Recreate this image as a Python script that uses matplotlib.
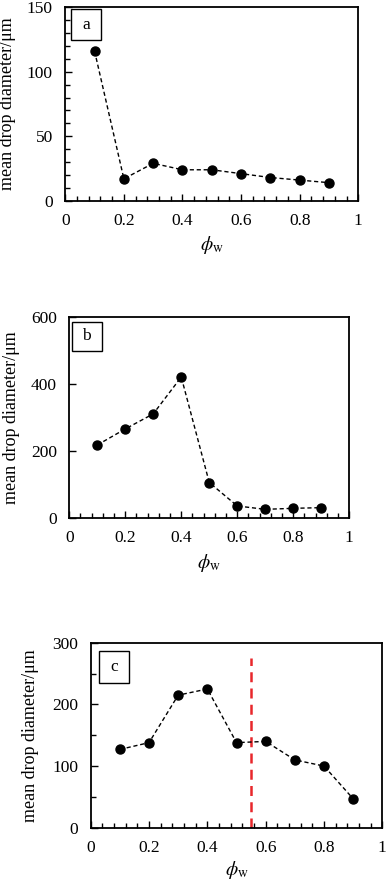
import matplotlib
matplotlib.use("Agg")
import matplotlib.pyplot as plt
from matplotlib.patches import Rectangle
from matplotlib.ticker import MultipleLocator

plt.rcParams['font.family'] = ['Liberation Serif', 'DejaVu Serif']
plt.rcParams['mathtext.fontset'] = 'stix'

phi_w = [0.1, 0.2, 0.3, 0.4, 0.5, 0.6, 0.7, 0.8, 0.9]
diam_a = [116, 17, 29, 24, 24, 21, 18, 16, 14]
diam_b = [217, 265, 310, 420, 105, 35, 25, 28, 30]
diam_c = [127, 138, 215, 225, 138, 140, 110, 100, 47]
line_c_x = 0.55
line_c_top = 275

fig = plt.figure(figsize=(3.87, 8.8), dpi=100)

def panel(rect, y, ymax, ymajor, yminor, letter, box, ylab_x, xlab_y):
    ax = fig.add_axes(rect)
    ax.plot(phi_w, y, 'k--', lw=1.0, dashes=(3, 2),
            marker='o', ms=6.5, mfc='black', mec='black', zorder=3)
    ax.set_xlim(0, 1)
    ax.set_ylim(0, ymax)
    ax.xaxis.set_major_locator(MultipleLocator(0.2))
    ax.xaxis.set_minor_locator(MultipleLocator(0.04))
    ax.yaxis.set_major_locator(MultipleLocator(ymajor))
    if yminor:
        ax.yaxis.set_minor_locator(MultipleLocator(yminor))
    ax.xaxis.set_major_formatter(plt.FuncFormatter(lambda v, p: '%g' % round(v, 2)))
    ax.tick_params(which='both', direction='in', top=False, right=False,
                   labelsize=12.5, width=1.0)
    ax.tick_params(which='major', length=5)
    ax.tick_params(which='minor', length=3.5)
    ax.tick_params(axis='y', pad=9)
    ax.tick_params(axis='x', pad=9)
    for s in ax.spines.values():
        s.set_linewidth(1.3)
    ax.set_ylabel('mean drop diameter/μm', fontsize=13)
    ax.yaxis.set_label_coords(ylab_x, 0.5)
    ax.set_xlabel(r'$\phi_{\rm w}$', fontsize=14)
    ax.xaxis.set_label_coords(0.5, xlab_y)
    x0, x1, y0, y1 = box
    ax.add_patch(Rectangle((x0, y0), x1 - x0, y1 - y0, transform=ax.transAxes,
                           fill=False, ec='black', lw=1.0, zorder=4))
    ax.text((x0 + x1) / 2, (y0 + y1) / 2, letter, transform=ax.transAxes,
            ha='center', va='center', fontsize=12.5)
    return ax

ax_a = panel([0.1687, 0.7719, 0.757, 0.2198], diam_a, 150, 50, 10, 'a',
             (0.019, 0.122, 0.83, 0.99), -0.168, -0.17)
ax_b = panel([0.179, 0.4117, 0.7235, 0.2284], diam_b, 600, 200, None, 'b',
             (0.009, 0.116, 0.83, 0.975), -0.176, -0.17)
ax_c = panel([0.2344, 0.0594, 0.7535, 0.2102], diam_c, 300, 100, 50, 'c',
             (0.028, 0.131, 0.784, 0.955), -0.176, -0.168)
ax_c.plot([line_c_x, line_c_x], [0, line_c_top], color='#e8272b', lw=1.8,
          dashes=(4, 2.5), zorder=2)

fig.savefig('out.png', dpi=100)
